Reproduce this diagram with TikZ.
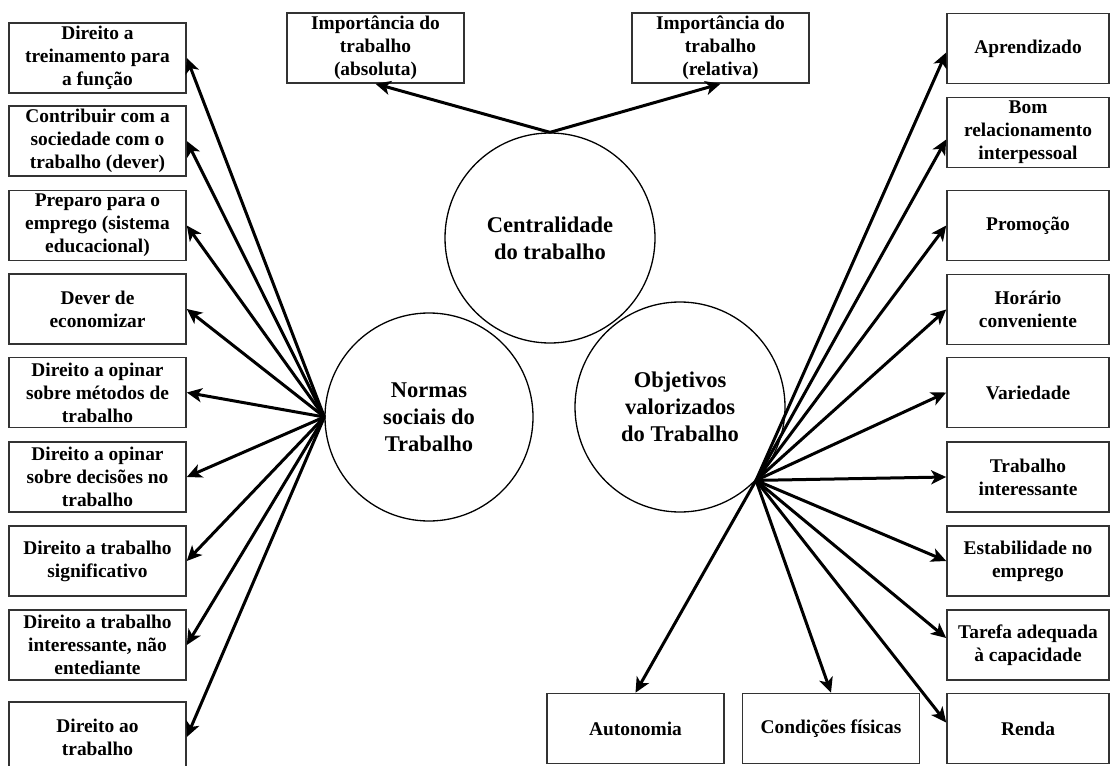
\documentclass[tikz,border=0pt]{standalone}
\usepackage{fontspec}
\setmainfont{Liberation Serif}
\usetikzlibrary{arrows.meta}
\begin{document}
\begin{tikzpicture}[x=1pt,y=-1pt,
  box/.style={draw=black!80, line width=1.6pt, minimum width=177pt, minimum height=70pt,
    inner sep=0pt, align=center, font=\fontsize{19.4}{23}\selectfont\bfseries},
  rbox/.style={box, minimum width=162pt},
  concept/.style={circle, draw, line width=1.3pt, minimum size=210pt, inner sep=0pt,
    align=center, font=\fontsize{22.5}{27}\selectfont\bfseries},
  link/.style={line width=3pt, -{Stealth[length=15pt,width=14pt,inset=4pt]}}
]
\useasboundingbox (0,0) rectangle (1110,765);
\clip (0,0) rectangle (1110,765);

% central concepts
\node[concept] (cent) at (550,238) {Centralidade\\do trabalho};
\node[concept, minimum size=208pt] (norm) at (429,417) {Normas\\sociais do\\Trabalho};
\node[concept] (obj) at (680,407) {Objetivos\\valorizados\\do Trabalho};

% importance of work
\node[box] (abs) at (375.5,48) {Importância do\\trabalho\\(absoluta)};
\node[box] (rel) at (720.5,48) {Importância do\\trabalho\\(relativa)};

% social norms
\node[box] (n1) at (97.5,58)   {Direito a\\treinamento para\\a função};
\node[box] (n2) at (97.5,141)  {Contribuir com a\\sociedade com o\\trabalho (dever)};
\node[box] (n3) at (97.5,225.5){Preparo para o\\emprego (sistema\\educacional)};
\node[box] (n4) at (97.5,309)  {Dever de\\economizar};
\node[box] (n5) at (97.5,392.5){Direito a opinar\\sobre métodos de\\trabalho};
\node[box] (n6) at (97.5,477)  {Direito a opinar\\sobre decisões no\\trabalho};
\node[box] (n7) at (97.5,561)  {Direito a trabalho\\significativo};
\node[box] (n8) at (97.5,645)  {Direito a trabalho\\interessante, não\\entediante};
\node[box] (n9) at (97.5,737)  {Direito ao\\trabalho};

% valued work goals
\node[rbox] (g1) at (1028,48.5)  {Aprendizado};
\node[rbox] (g2) at (1028,132.5) {Bom\\relacionamento\\interpessoal};
\node[rbox] (g3) at (1028,225.5) {Promoção};
\node[rbox] (g4) at (1028,309.5) {Horário\\conveniente};
\node[rbox] (g5) at (1028,392.5) {Variedade};
\node[rbox] (g6) at (1028,477)   {Trabalho\\interessante};
\node[rbox] (g7) at (1028,561)   {Estabilidade no\\emprego};
\node[rbox] (g8) at (1028,645)   {Tarefa adequada\\à capacidade};
\node[rbox] (g9) at (1028,728.5) {Renda};
\node[box] (g10) at (635.5,728.5) {Autonomia};
\node[box] (g11) at (831,728.5)   {Condições físicas};

% connectors
\draw[link] (cent.north) -- (abs.south);
\draw[link] (cent.north) -- (rel.south);

\foreach \n in {n1,n2,n3,n4,n5,n6,n7,n8,n9}
  \draw[link] (norm.west) -- (\n.east);

\coordinate (o) at (obj.-44);
\draw[link] (o) -- ([yshift=-4pt]g1.west);
\draw[link] (o) -- ([yshift=-7pt]g2.west);
\foreach \g in {g3,g4,g5,g6,g7}
  \draw[link] (o) -- (\g.west);
\draw[link] (o) -- ([yshift=7pt]g8.west);
\draw[link] (o) -- ([yshift=6pt]g9.west);
\draw[link] (o) -- (g10.north);
\draw[link] (o) -- (g11.north);
\end{tikzpicture}
\end{document}
